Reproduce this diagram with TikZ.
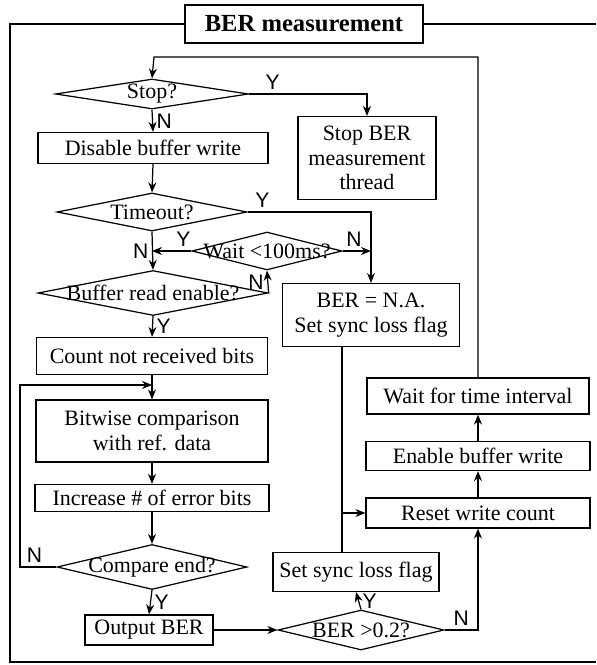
\documentclass[tikz,border=0pt]{standalone}
\usepackage{fontspec}
\setmainfont{Liberation Serif}
\setsansfont{Liberation Sans}
\usetikzlibrary{arrows.meta,positioning,shapes.geometric,calc}

\begin{document}
\begin{tikzpicture}[
    x=0.02cm, y=-0.02cm, line width=0.7pt,
    txt/.style={font=\fontsize{12.5}{14}\selectfont, align=center},
    stepbox/.style={draw, txt, inner sep=1pt},
    dec/.style={draw, diamond, inner sep=0pt, label={[txt, inner sep=0pt]center:#1}},
    yn/.style={font=\sffamily\fontsize{12}{12}\selectfont, inner sep=2pt},
    arrow/.style={-{Stealth[length=2mm, width=1.6mm]}}
]
\useasboundingbox (0,0) rectangle (596,665);

\node[draw, font=\bfseries\fontsize{14}{16}\selectfont, minimum width=4.76cm, minimum height=0.76cm] (title) at (304,24) {BER measurement};

\node[dec={Stop?}, minimum width=3.86cm, minimum height=0.6cm] (stop) at (152,94) {};
\node[stepbox, minimum width=2.76cm, minimum height=1.66cm] (stopthr) at (367,158) {Stop BER\\measurement\\thread};
\node[stepbox, minimum width=4.6cm, minimum height=0.62cm] (disable) at (153,148) {Disable buffer write};
\node[dec={Timeout?}, minimum width=3.8cm, minimum height=0.76cm] (timeout) at (152,212) {};
\node[dec={Wait <100ms?}, minimum width=3.0cm, minimum height=0.76cm] (waitms) at (267,251) {};
\node[dec={Buffer read enable?}, minimum width=4.6cm, minimum height=0.9cm] (bufrd) at (153,293) {};
\node[stepbox, minimum width=3.54cm, minimum height=1.26cm] (nabox) at (371,315) {BER = N.A.\\Set sync loss flag};
\node[stepbox, minimum width=4.62cm, minimum height=0.74cm] (count) at (152,356) {Count not received bits};
\node[stepbox, minimum width=4.64cm, minimum height=1.24cm] (bitcmp) at (152,431) {Bitwise comparison\\with ref. data};
\node[stepbox, minimum width=4.68cm, minimum height=0.54cm] (incerr) at (152,498) {Increase \# of error bits};
\node[dec={Compare end?}, minimum width=3.8cm, minimum height=0.9cm] (cmpend) at (152,567) {};
\node[stepbox, minimum width=2.56cm, minimum height=0.6cm] (outber) at (149,630) {Output BER};
\node[dec={BER >0.2?}, minimum width=3.32cm, minimum height=0.8cm] (berchk) at (361,630) {};
\node[stepbox, minimum width=3.32cm, minimum height=0.78cm] (syncflag) at (356,572) {Set sync loss flag};
\node[stepbox, minimum width=4.44cm, minimum height=0.72cm] (waitint) at (478,396) {Wait for time interval};
\node[stepbox, minimum width=4.48cm, minimum height=0.58cm] (enable) at (478,456) {Enable buffer write};
\node[stepbox, minimum width=4.48cm, minimum height=0.6cm] (reset) at (478,513) {Reset write count};

\coordinate (ret) at (154,57);
\coordinate (lp) at (20,385);
\coordinate (mrg) at (342,513);

\draw (title.west) -| (10,662) -- (596,662);
\draw (title.east) -- (596,24);

\draw[arrow] (waitint.north) |- (ret) -- (stop.north);
\draw[arrow] (stop.east) -| node[yn, above, pos=0.1] {Y} (stopthr.north);
\draw[arrow] (stop.south) -- node[yn, right] {N} (disable.north);
\draw[arrow] (disable.south) -- (timeout.north);
\draw[arrow] (timeout.east) -| node[yn, above, pos=0.06] {Y} (nabox.north);
\draw[arrow] (timeout.south) -- node[yn, left] {N} (bufrd.north);
\draw[arrow] (waitms.west) -- node[yn, above, pos=0.2] {Y} (waitms.west -| timeout.south);
\draw[arrow] (waitms.east) -- node[yn, above, pos=0.4] {N} (waitms.east -| nabox.north);
\draw[arrow] (bufrd.east) -- node[yn, left] {N} (waitms.south);
\draw[arrow] (bufrd.south) -- node[yn, right] {Y} (count.north);
\draw[arrow] (count.south) -- (bitcmp.north);
\draw[arrow] (bitcmp.south) -- (incerr.north);
\draw[arrow] (incerr.south) -- (cmpend.north);
\draw[arrow] (cmpend.west) -| node[yn, above, pos=0.3] {N} (lp) -- (count.south |- lp);
\draw[arrow] (cmpend.south) -- node[yn, right] {Y} (outber.north);
\draw[arrow] (outber.east) -- (berchk.west);
\draw[arrow] (berchk.north) -- node[yn, right] {Y} (syncflag.south);
\draw[arrow] (berchk.east) -| node[yn, above, pos=0.25] {N} (reset.south);
\draw (nabox.south -| mrg) -- (syncflag.north -| mrg);
\draw[arrow] (mrg) -- (reset.west);
\draw[arrow] (reset.north) -- (enable.south);
\draw[arrow] (enable.north) -- (waitint.south);
\end{tikzpicture}
\end{document}
